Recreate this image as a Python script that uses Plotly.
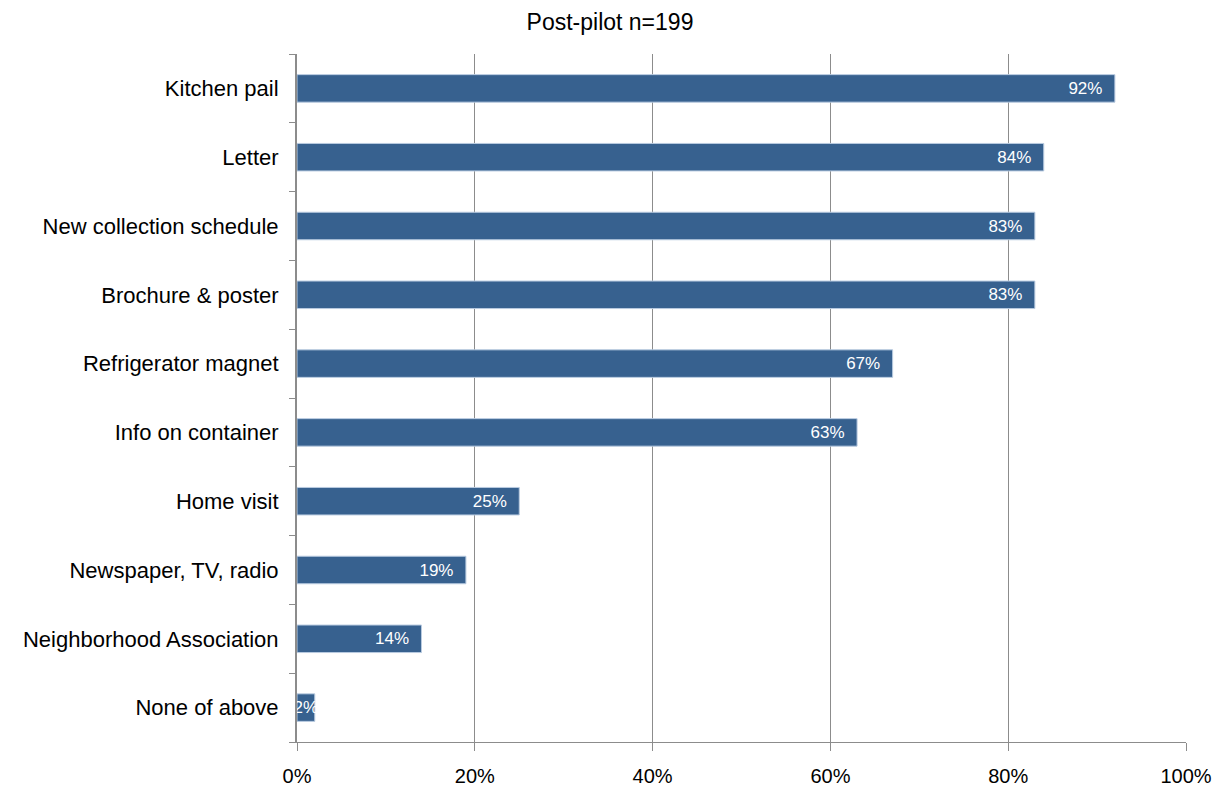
import plotly.graph_objects as go

categories = ["Kitchen pail", "Letter", "New collection schedule", "Brochure & poster",
              "Refrigerator magnet", "Info on container", "Home visit",
              "Newspaper, TV, radio", "Neighborhood Association", "None of above"]
values = [92, 84, 83, 83, 67, 63, 25, 19, 14, 2]
labels = [f"{v}%" for v in values]
x_ticks = [0, 20, 40, 60, 80, 100]
x_tick_labels = [f"{t}%" for t in x_ticks]
title = "Post-pilot n=199"

FONT = "Liberation Sans, Arial, sans-serif"
PAD = "\u00a0\u00a0"

bar_style = dict(
    orientation="h", textposition="inside", constraintext="none", textangle=0,
    cliponaxis=False,
    textfont=dict(color="white", size=17, family=FONT),
    marker=dict(color="#37618F", line=dict(color="#B9CBE0", width=1)),
    hoverinfo="skip",
)

fig = go.Figure()
# bars wide enough to hold their label: label at the end of the bar
fig.add_trace(go.Bar(
    y=categories[:-1], x=values[:-1], text=[t + PAD for t in labels[:-1]],
    insidetextanchor="end", **bar_style))
# tiny bar: label centred on the bar
fig.add_trace(go.Bar(
    y=categories[-1:], x=values[-1:], text=labels[-1:],
    insidetextanchor="middle", **bar_style))

fig.update_layout(
    width=1217, height=780,
    margin=dict(l=289, r=39, t=46, b=46, autoexpand=False),
    paper_bgcolor="white", plot_bgcolor="white",
    font=dict(family=FONT, size=21, color="black"),
    title=dict(text=title, x=(610 - 8) / 1217, xanchor="center", y=0.982, yanchor="middle",
               font=dict(size=23)),
    barmode="overlay", bargap=0.6, showlegend=False,
)
fig.update_xaxes(
    range=[0, 100], tickvals=x_ticks, ticktext=x_tick_labels,
    showgrid=True, gridcolor="#8C8C8C", gridwidth=1,
    showline=True, linecolor="#8C8C8C", linewidth=1,
    ticks="outside", ticklen=8, tickcolor="#8C8C8C", ticklabelstandoff=8,
    zeroline=False, tickfont=dict(size=20), automargin=False,
)
fig.update_yaxes(
    categoryorder="array", categoryarray=categories[::-1],
    showline=True, linecolor="#8C8C8C", linewidth=2,
    ticks="outside", ticklen=6, tickcolor="#8C8C8C", tickson="boundaries",
    showgrid=False, ticklabelstandoff=12, tickfont=dict(size=22), automargin=False,
)

fig.write_html("out.html")
